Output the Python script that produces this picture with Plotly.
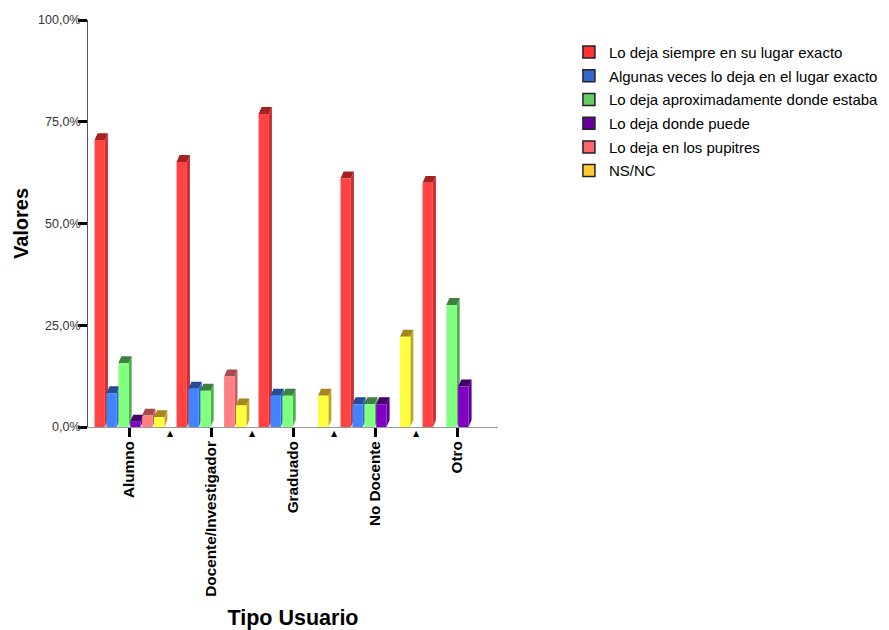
import plotly.graph_objects as go

# ---------------- data ----------------
categories = ["Alumno", "Docente/Investigador", "Graduado", "No Docente", "Otro"]
series_names = [
    "Lo deja siempre en su lugar exacto",
    "Algunas veces lo deja en el lugar exacto",
    "Lo deja aproximadamente donde estaba",
    "Lo deja donde puede",
    "Lo deja en los pupitres",
    "NS/NC",
]
s_siempre = [70.5, 65.1, 76.9, 61.1, 60.0]
s_algunas = [8.3, 9.4, 7.7, 5.6, 0.0]
s_aprox = [15.7, 8.9, 7.7, 5.6, 30.0]
s_puede = [1.3, 0.0, 0.0, 5.6, 10.0]
s_pupitres = [2.8, 12.4, 0.0, 0.0, 0.0]
s_nsnc = [2.4, 5.3, 7.7, 22.2, 0.0]
series_values = [s_siempre, s_algunas, s_aprox, s_puede, s_pupitres, s_nsnc]

y_tickvals = [0, 25, 50, 75, 100]
y_ticktext = ["0,0%", "25,0%", "50,0%", "75,0%", "100,0%"]

# ---------------- styles ----------------
front_colors = ["#FF4242", "#4284FF", "#80FF80", "#8000C4", "#FF8080", "#FFFF40"]
side_colors = ["#C83232", "#3162C0", "#4CB04C", "#5E0090", "#C45E5E", "#C4A428"]
cap_colors = ["#A62222", "#254C96", "#3E8040", "#44006A", "#A84A4A", "#A8861E"]
legend_colors = ["#FF3333", "#3366CC", "#66CC66", "#660099", "#FF6666", "#FFCC33"]

FONT = "Arial, Liberation Sans, sans-serif"
SLOT = 0.145
BARW = 0.126
FIRST = -0.42
DX = 0.037
DY = 1.7

fig = go.Figure()

idx = list(range(len(categories)))

# 3D side faces and caps (drawn on base axes, below the front faces)
for j, vals in enumerate(series_values):
    off = FIRST + j * SLOT
    sx, sy, cx, cy = [], [], [], []
    for i, v in zip(idx, vals):
        if v <= 0:
            continue
        x0 = i + off
        x1 = x0 + BARW
        sx += [x1, x1 + DX, x1 + DX, x1, x1, None]
        sy += [0, DY, v + DY, v, 0, None]
        cx += [x0, x0 + DX, x1 + DX, x1, x0, None]
        cy += [v, v + DY, v + DY, v, v, None]
    fig.add_trace(go.Scatter(x=sx, y=sy, mode="lines", fill="toself",
                             fillcolor=side_colors[j], line=dict(width=0),
                             hoverinfo="skip", showlegend=False))
    fig.add_trace(go.Scatter(x=cx, y=cy, mode="lines", fill="toself",
                             fillcolor=cap_colors[j], line=dict(width=0),
                             hoverinfo="skip", showlegend=False))

# front faces (bars) on overlaying axes so they sit above the side faces
for j, (name, vals) in enumerate(zip(series_names, series_values)):
    fig.add_trace(go.Bar(x=idx, y=vals, offset=FIRST + j * SLOT, width=BARW,
                         marker=dict(color=front_colors[j], line=dict(width=0)),
                         name=name, showlegend=False, xaxis="x2", yaxis="y2"))

# legend entries
for j, name in enumerate(series_names):
    fig.add_trace(go.Bar(x=[None], y=[None], name=name, legendgroup=f"g{j}",
                         marker=dict(color=legend_colors[j], line=dict(width=1.5, color="#222222")),
                         xaxis="x2", yaxis="y2", showlegend=True))

# group separator markers
for i in idx[:-1]:
    fig.add_annotation(x=i + 0.5, y=0, xref="x", yref="y", text="▲",
                       showarrow=False, yshift=-6,
                       font=dict(size=8, color="black", family="DejaVu Sans"))

fig.update_layout(
    width=881, height=622, autosize=False,
    margin=dict(l=80, r=391, t=12, b=203, autoexpand=False),
    paper_bgcolor="white", plot_bgcolor="white",
    barmode="overlay",
    font=dict(family=FONT, color="black"),
    xaxis=dict(range=[-0.5, 4.5], tickvals=idx, ticktext=categories,
               tickangle=-90, ticks="outside", ticklen=9, tickwidth=3, tickcolor="black",
               ticklabelstandoff=-2,
               tickfont=dict(size=15.3, family=FONT, color="black", weight="bold"),
               showline=True, linecolor="#999999", linewidth=1,
               showgrid=False, zeroline=False, automargin=False,
               title=dict(text="Tipo Usuario", standoff=24,
                          font=dict(size=21.5, family=FONT, color="black", weight="bold"))),
    yaxis=dict(range=[0, 100], tickvals=y_tickvals, ticktext=y_ticktext,
               ticks="outside", ticklen=9, tickwidth=3, tickcolor="black",
               ticklabelstandoff=-5,
               tickfont=dict(size=12.5, family=FONT, color="#333333"),
               showline=True, linecolor="#555555", linewidth=1,
               showgrid=False, zeroline=False, automargin=False,
               title=dict(text="Valores", standoff=4,
                          font=dict(size=20, family=FONT, color="black", weight="bold"))),
    xaxis2=dict(range=[-0.5, 4.5], overlaying="x", visible=False),
    yaxis2=dict(range=[0, 100], overlaying="y", visible=False),
    legend=dict(x=1.173, y=0.961, xanchor="left", yanchor="top",
                font=dict(size=15, family=FONT, color="black"),
                bgcolor="rgba(0,0,0,0)", tracegroupgap=1.2, traceorder="grouped"),
)

fig.write_html("out.html")
